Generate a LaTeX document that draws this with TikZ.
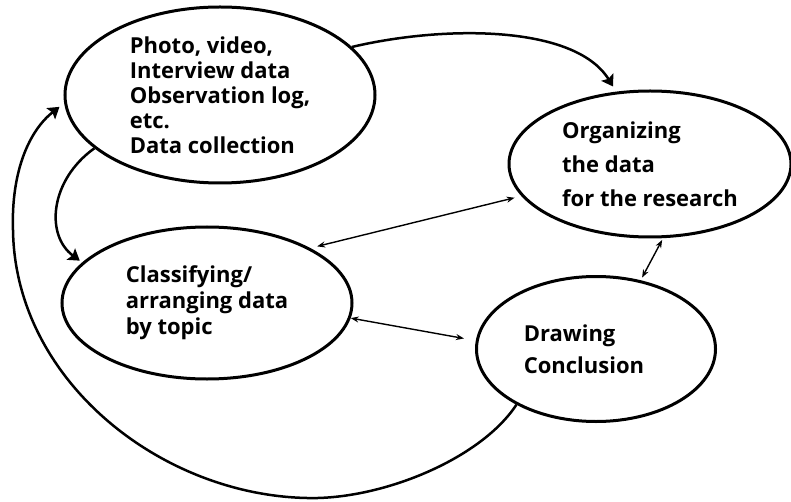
\documentclass[tikz,border=0pt]{standalone}
\usepackage{fontspec}
\setmainfont{Open Sans}
\usetikzlibrary{arrows.meta,shapes.geometric}
\begin{document}
\begin{tikzpicture}[x=1pt,y=-1pt,
  blob/.style={draw, line width=3pt, ellipse, inner sep=0pt, align=left},
  txt/.style={font=\bfseries\fontsize{22}{#1}\selectfont},
  flow/.style={line width=2.5pt, -{Stealth[length=11pt,width=14pt,inset=2pt]}},
  link/.style={line width=1.4pt, {Stealth[length=8pt,width=6pt]}-{Stealth[length=8pt,width=6pt]}}]
\useasboundingbox (0,0) rectangle (791,502);
\node[blob, txt=25, minimum width=310pt, minimum height=176pt] (e1) at (220,95)
  {Photo, video,\\Interview data\\Observation log,\\etc.\\Data collection};
\node[blob, txt=34, minimum width=282pt, minimum height=146pt] (e2) at (650,164)
  {Organizing\\the data\\for the research};
\node[blob, txt=26, minimum width=290pt, minimum height=152pt] (e3) at (207,303)
  {Classifying/\\arranging data\\by topic};
\node[blob, txt=32, minimum width=239pt, minimum height=145pt] (e4) at (596,349)
  {Drawing\\Conclusion\hspace*{24pt}};
\draw[flow, shorten >=6pt] (e1.20) .. controls (445,25) and (575,25) .. (e2.115);
\draw[flow, shorten >=3pt] (e1.203) .. controls (50,180) and (45,235) .. (e3.162);
\draw[flow, shorten >=6pt] (e4.215) .. controls (480,460) and (380,500) .. (307,498)
  .. controls (160,495) and (15,380) .. (13,230)
  .. controls (11,170) and (30,130) .. (e1.183);
\draw[link, shorten <=7pt, shorten >=7pt] (e3.28) -- (e2.194);
\draw[link, shorten >=12pt] (e3.354) -- (e4.176);
\draw[link, shorten <=2pt, shorten >=3pt] (e2.280) -- (e4.57);
\end{tikzpicture}
\end{document}
